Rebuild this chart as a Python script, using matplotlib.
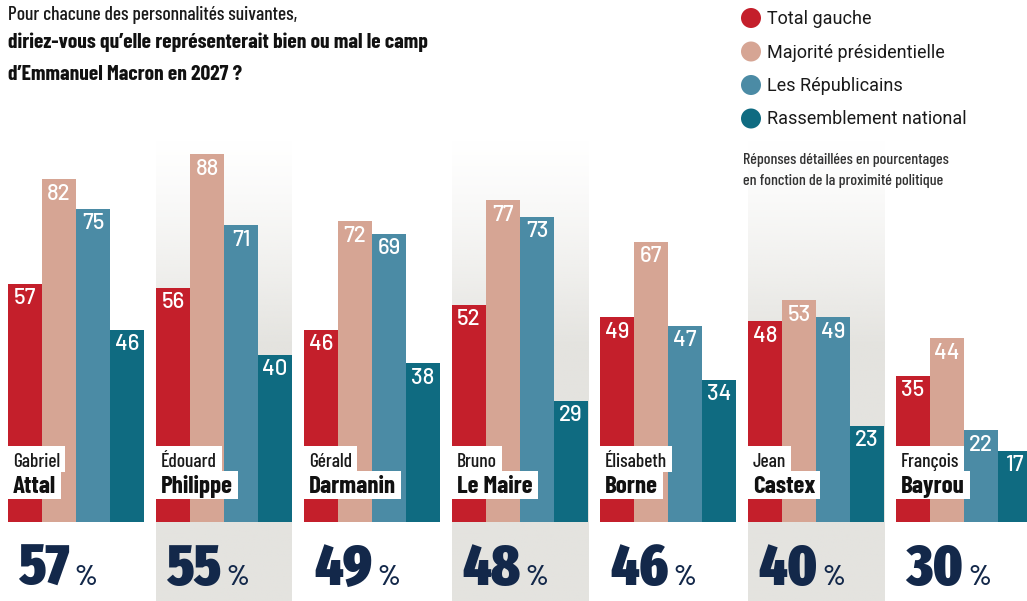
import matplotlib
matplotlib.use("Agg")
import matplotlib.pyplot as plt
import numpy as np
from matplotlib.patches import Rectangle, Circle
from matplotlib.colors import to_rgb

W, H = 1027, 601

# données
first_names = ["Gabriel", "Édouard", "Gérald", "Bruno", "Élisabeth", "Jean", "François"]
last_names = ["Attal", "Philippe", "Darmanin", "Le Maire", "Borne", "Castex", "Bayrou"]
total_gauche = [57, 56, 46, 52, 49, 48, 35]
majorite = [82, 88, 72, 77, 67, 53, 44]
republicains = [75, 71, 69, 73, 47, 49, 22]
rassemblement = [46, 40, 38, 29, 34, 23, 17]
totaux = [57, 55, 49, 48, 46, 40, 30]
series_labels = ["Total gauche", "Majorité présidentielle", "Les Républicains", "Rassemblement national"]
colors = ["#c41f2b", "#d6a594", "#4b8ba5", "#0f6b81"]

COND = ["Barlow Condensed", "DejaVu Sans"]
HEAVY = ["Fira Sans Extra Condensed", "DejaVu Sans"]
DIN = ["Barlow", "DejaVu Sans"]
SANS = ["Roboto", "DejaVu Sans"]
NAVY = "#13284a"
BAND = "#e4e3df"

# géométrie en pixels
base_px = 522
unit_px = 4.18
bar_px = 34
step_px = 148
first_left = 8

fig = plt.figure(figsize=(W / 100, H / 100), dpi=100)
fig.patch.set_facecolor("white")

ax = fig.add_axes([0, (H - base_px) / H, 1, 100 * unit_px / H])
w = bar_px / step_px
center0 = first_left + 2 * bar_px
x = np.arange(len(last_names))

# bandes grises (une sur deux) avec dégradé en haut
y_top = 92
y_bot = -(H - base_px) / unit_px - 1
yy = np.linspace(y_top, y_bot, 300)
alpha = np.clip((y_top - yy) / 50, 0, 1) ** 1.3
rgb = to_rgb(BAND)
grad = np.zeros((300, 1, 4))
grad[:, 0, :3] = rgb
grad[:, 0, 3] = alpha
for i in x[1::2]:
    ax.imshow(grad, extent=(i - 2 * w, i + 2 * w, y_bot, y_top), aspect="auto",
              origin="upper", zorder=0, clip_on=False, interpolation="bilinear")

series = [total_gauche, majorite, republicains, rassemblement]
for k, (vals, c) in enumerate(zip(series, colors)):
    xs = x + (k - 1.5) * w
    ax.bar(xs, vals, width=w, color=c, linewidth=0, zorder=2)
    for xi, v in zip(xs, vals):
        ax.text(xi, v - 4.9, str(v), ha="center", va="baseline", color="white",
                fontsize=16, fontweight=500, family=DIN, zorder=3)

ax.set_xlim(-center0 / step_px, (W - center0) / step_px)
ax.set_ylim(0, 100)
ax.axis("off")

# calque en pixels pour les textes
ov = fig.add_axes([0, 0, 1, 1], zorder=5)
ov.set_xlim(0, W)
ov.set_ylim(H, 0)
ov.axis("off")
ov.patch.set_alpha(0)

renderer = fig.canvas.get_renderer()

for i in x:
    left = ax.transData.transform((i - 2 * w, 0))[0]
    t1 = ov.text(left + 5, 467, first_names[i], fontsize=14, family=COND,
                 fontweight=500, color="#1a1a1a", va="baseline", zorder=3)
    t2 = ov.text(left + 5, 493, last_names[i], fontsize=18, family=COND,
                 fontweight="bold", color="#111111", va="baseline", zorder=3)
    w1 = t1.get_window_extent(renderer).width
    w2 = t2.get_window_extent(renderer).width
    ov.add_patch(Rectangle((left, 446), w1 + 10, 26, fc="white", ec="none", zorder=2))
    ov.add_patch(Rectangle((left, 471), w2 + 10, 28, fc="white", ec="none", zorder=2))

    tp = ov.text(left + 10, 585, str(totaux[i]), fontsize=42, family=HEAVY,
                 fontweight=900, color=NAVY, va="baseline")
    wp = tp.get_window_extent(renderer).width
    ov.text(left + 10 + wp + 5, 585, "%", fontsize=21, family=COND,
            fontweight=600, color=NAVY, va="baseline")

# titre
ov.text(8, 20, "Pour chacune des personnalités suivantes,", fontsize=14,
        family=COND, fontweight=500, color="#1a1a1a", va="baseline")
ov.text(8, 48, "diriez-vous qu’elle représenterait bien ou mal le camp", fontsize=15.5,
        family=COND, fontweight="bold", color="#111111", va="baseline")
ov.text(8, 80, "d’Emmanuel Macron en 2027 ?", fontsize=15.5,
        family=COND, fontweight="bold", color="#111111", va="baseline")

# légende
for j, (lab, c) in enumerate(zip(series_labels, colors)):
    cy = 18 + j * 33.5
    ov.add_patch(Circle((751, cy), 10, fc=c, ec="none"))
    ov.text(767, cy + 1, lab, fontsize=13, family=SANS, color="#1a1a1a", va="center")

ov.text(743, 164, "Réponses détaillées en pourcentages", fontsize=11.5,
        family=COND, fontweight=500, color="#333333", va="baseline")
ov.text(743, 185, "en fonction de la proximité politique", fontsize=11.5,
        family=COND, fontweight=500, color="#333333", va="baseline")

fig.savefig("out.png", dpi=100)
